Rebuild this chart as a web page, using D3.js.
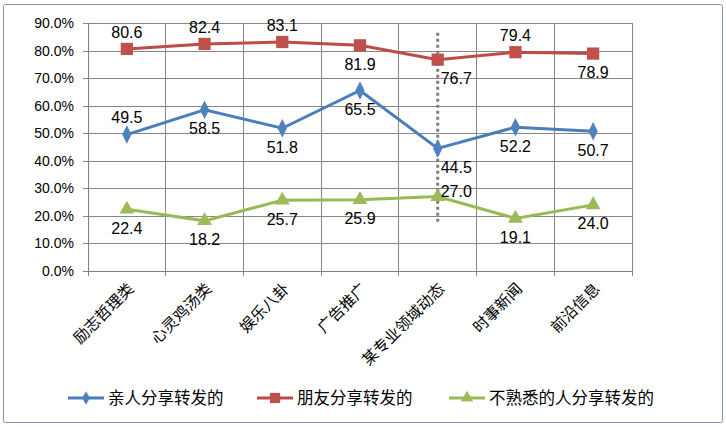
<!DOCTYPE html>
<html>
<head>
<meta charset="utf-8">
<script src="https://cdn.jsdelivr.net/npm/d3@7/dist/d3.min.js"></script>
<style>
  body { margin: 0; background: #fff; }
  svg text { font-family: "Liberation Sans", Arial, sans-serif; fill: #000; }
  .cjk { font-family: "Noto Sans CJK SC", sans-serif; }
</style>
</head>
<body>
<div id="chart"></div>
<script>
var categories = ["励志哲理类", "心灵鸡汤类", "娱乐八卦", "广告推广", "某专业领域动态", "时事新闻", "前沿信息"];
var seriesNames = ["亲人分享转发的", "朋友分享转发的", "不熟悉的人分享转发的"];
var relatives = [49.5, 58.5, 51.8, 65.5, 44.5, 52.2, 50.7];
var friends = [80.6, 82.4, 83.1, 81.9, 76.7, 79.4, 78.9];
var strangers = [22.4, 18.2, 25.7, 25.9, 27.0, 19.1, 24.0];
// where each data label sits: t = above, b = below, rb = right-below, rt = right-above
var relativesLabelPos = ["t", "b", "b", "b", "rb", "b", "b"];
var friendsLabelPos = ["t", "t", "t", "b", "rb", "t", "b"];
var strangersLabelPos = ["b", "b", "b", "b", "rt", "b", "b"];
var yTicks = [0, 10, 20, 30, 40, 50, 60, 70, 80, 90];
// dotted marker line at 某专业领域动态
var markerCategory = "某专业领域动态";
var markerRange = [17.8, 86.5];

var W = 726, H = 428;
var margin = {left: 88, top: 23, right: 94, bottom: 157};

var svg = d3.select("#chart").append("svg").attr("width", W).attr("height", H);

svg.append("rect").attr("x", 3.5).attr("y", 4.5).attr("width", 719).attr("height", 418)
    .attr("rx", 2).attr("fill", "#fff").attr("stroke", "#8196b0").attr("stroke-width", 1);

var x = d3.scaleBand().domain(categories).range([margin.left, W - margin.right]);
var y = d3.scaleLinear().domain([0, 90]).range([H - margin.bottom, margin.top]);

var g = svg.append("g");

// horizontal gridlines + y ticks
var yAxis = d3.axisLeft(y).tickValues(yTicks).tickSize(-(W - margin.left - margin.right))
    .tickFormat(function(d) { return d.toFixed(1) + "%"; });
var ya = g.append("g").attr("transform", "translate(" + margin.left + ",0)").call(yAxis);
ya.select(".domain").remove();
ya.selectAll(".tick line").attr("stroke", "#868686").attr("x1", -5).attr("shape-rendering", "crispEdges");
ya.selectAll(".tick text").attr("x", -14).attr("font-size", "14px").attr("fill", "#000");

// vertical gridlines at category boundaries
var bounds = categories.map(function(c) { return x(c); }).concat([x.range()[1]]);
g.selectAll(".vgrid").data(bounds).enter().append("line")
    .attr("x1", function(d) { return d; }).attr("x2", function(d) { return d; })
    .attr("y1", y(90)).attr("y2", y(0) + 5)
    .attr("stroke", "#868686").attr("shape-rendering", "crispEdges");
g.append("line").attr("x1", margin.left).attr("x2", margin.left).attr("y1", y(90)).attr("y2", y(0) + 5)
    .attr("stroke", "#808080").attr("shape-rendering", "crispEdges");
g.append("line").attr("x1", margin.left - 5).attr("x2", x.range()[1]).attr("y1", y(0)).attr("y2", y(0))
    .attr("stroke", "#808080").attr("shape-rendering", "crispEdges");

// category labels
var cx = function(c) { return x(c) + x.bandwidth() / 2; };
g.selectAll(".xlab").data(categories).enter().append("text")
    .attr("class", "cjk")
    .attr("transform", function(d) { return "translate(" + (cx(d) + 4) + "," + (y(0) + 15) + ") rotate(-45)"; })
    .attr("text-anchor", "end").attr("dy", "0.35em")
    .attr("font-size", "15.5px").attr("fill", "#222")
    .text(function(d) { return d; });

// dotted marker
g.append("line")
    .attr("x1", cx(markerCategory)).attr("x2", cx(markerCategory))
    .attr("y1", y(markerRange[1])).attr("y2", y(markerRange[0]))
    .attr("stroke", "#7f7f7f").attr("stroke-width", 3).attr("stroke-dasharray", "3,3");

var series = [
  {name: seriesNames[0], values: relatives, pos: relativesLabelPos, line: "#4a7ebb", fill: "#4f81bd", marker: d3.symbolDiamond, size: 75},
  {name: seriesNames[1], values: friends, pos: friendsLabelPos, line: "#be4b48", fill: "#c0504d", marker: d3.symbolSquare, size: 150},
  {name: seriesNames[2], values: strangers, pos: strangersLabelPos, line: "#98b954", fill: "#9bbb59", marker: d3.symbolTriangle, size: 95}
];

var line = d3.line().x(function(d, i) { return cx(categories[i]); }).y(function(d) { return y(d); });

series.forEach(function(s) {
  var sg = g.append("g");
  sg.append("path").datum(s.values).attr("d", line)
      .attr("fill", "none").attr("stroke", s.line).attr("stroke-width", 3);
  sg.selectAll(".pt").data(s.values).enter().append("path")
      .attr("d", d3.symbol().type(s.marker).size(s.size))
      .attr("transform", function(d, i) {
        var k = s.marker === d3.symbolDiamond ? " scale(1,1.15)" : "";
        return "translate(" + cx(categories[i]) + "," + y(d) + ")" + k;
      })
      .attr("fill", s.fill);
  sg.selectAll(".lab").data(s.values).enter().append("text")
      .attr("font-size", "16px")
      .attr("x", function(d, i) {
        var p = s.pos[i];
        return p[0] === "r" ? cx(categories[i]) + 3 : cx(categories[i]);
      })
      .attr("y", function(d, i) {
        var p = s.pos[i], py = y(d);
        if (p === "t") return py - 17;
        if (p === "rt") return py - 5;
        return py + 19;
      })
      .attr("dy", "0.35em")
      .attr("text-anchor", function(d, i) { return s.pos[i][0] === "r" ? "start" : "middle"; })
      .text(function(d) { return d.toFixed(1); });
});

// legend
var legX = [68, 257, 449];
var leg = svg.selectAll(".leg").data(series).enter().append("g")
    .attr("transform", function(d, i) { return "translate(" + legX[i] + ",398)"; });
leg.append("line").attr("x1", 0).attr("x2", 36).attr("y1", 0).attr("y2", 0)
    .attr("stroke", function(d) { return d.line; }).attr("stroke-width", 3);
leg.append("path")
    .attr("d", function(d) { return d3.symbol().type(d.marker).size(d.size * 0.7)(); })
    .attr("transform", "translate(18,0)")
    .attr("fill", function(d) { return d.fill; });
leg.append("text").attr("class", "cjk").attr("x", 40).attr("dy", "0.35em")
    .attr("font-size", "16.5px").text(function(d) { return d.name; });
</script>
</body>
</html>
